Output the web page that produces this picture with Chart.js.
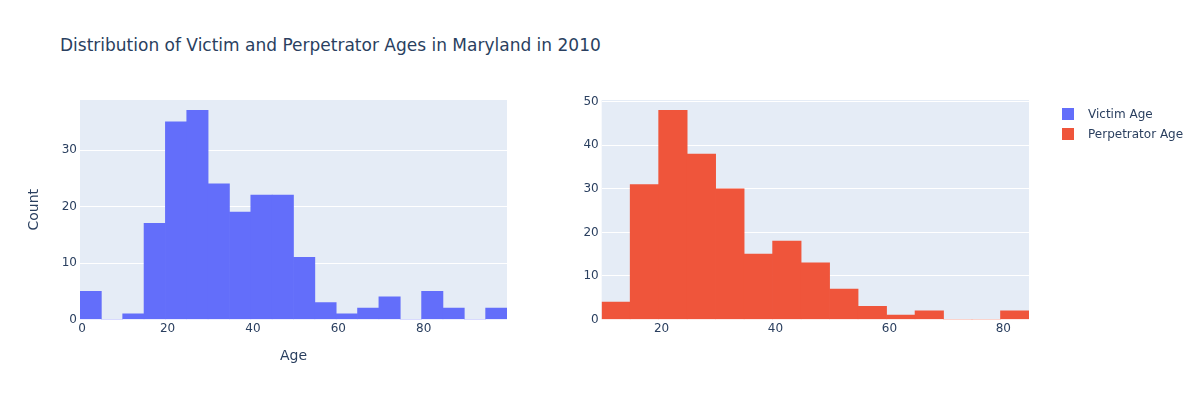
<!DOCTYPE html>
<html>
<head>
<meta charset="utf-8">
<script src="https://cdn.jsdelivr.net/npm/chart.js@4.4.1/dist/chart.umd.min.js"></script>
<style>
  html, body { margin: 0; padding: 0; background: #fff; }
  #wrap { position: relative; width: 1200px; height: 400px; overflow: hidden; font-family: "DejaVu Sans", "Open Sans", sans-serif; color: #2a3f5f; }
  #title { position: absolute; left: 60px; top: 33px; font-size: 17px; line-height: 24px; white-space: nowrap; }
  canvas { position: absolute; top: 0; }
  #c1 { left: 0; }
  #c2 { left: 520px; }
  .leg { position: absolute; left: 1062px; font-size: 12px; line-height: 16px; white-space: nowrap; z-index: 5; }
  .leg span.sw { position: absolute; left: 0; top: 2px; width: 12px; height: 12px; }
  .leg span.tx { position: absolute; left: 26px; top: 0; }
</style>
</head>
<body>
<div id="wrap">
  <div id="title">Distribution of Victim and Perpetrator Ages in Maryland in 2010</div>
  <canvas id="c1" width="600" height="400"></canvas>
  <canvas id="c2" width="600" height="400"></canvas>
  <div class="leg" style="top:106px"><span class="sw" style="background:#636efa"></span><span class="tx">Victim Age</span></div>
  <div class="leg" style="top:125.5px"><span class="sw" style="background:#EF553B"></span><span class="tx">Perpetrator Age</span></div>
</div>
<script>
// ---- data ----
const victimBinCenters = [2, 7, 12, 17, 22, 27, 32, 37, 42, 47, 52, 57, 62, 67, 72, 77, 82, 87, 92, 97];
const victimCounts     = [5, 0, 1, 17, 35, 37, 24, 19, 22, 22, 11, 3, 1, 2, 4, 0, 5, 2, 0, 2];
const perpBinCenters   = [12, 17, 22, 27, 32, 37, 42, 47, 52, 57, 62, 67, 72, 77, 82];
const perpCounts       = [4, 31, 48, 38, 30, 15, 18, 13, 7, 3, 1, 2, 0, 0, 2];
const victimXTicks = [0, 20, 40, 60, 80];
const perpXTicks   = [20, 40, 60, 80];
const victimYTicks = [0, 10, 20, 30];
const perpYTicks   = [0, 10, 20, 30, 40, 50];
const seriesNames  = ['Victim Age', 'Perpetrator Age'];

const FONT = '"DejaVu Sans", "Open Sans", sans-serif';
const TXT = '#2a3f5f';

const bgPlugin = {
  id: 'plotBg',
  beforeDraw(chart) {
    const a = chart.chartArea, ctx = chart.ctx;
    ctx.save();
    ctx.fillStyle = '#E5ECF6';
    ctx.fillRect(a.left, a.top, a.right - a.left, a.bottom - a.top);
    ctx.restore();
  }
};

function makeChart(id, name, centers, counts, color, xr, yMax, xTicks, yTicks, yAxisW, rightPad, showTitles) {
  return new Chart(document.getElementById(id), {
    type: 'bar',
    data: {
      datasets: [{
        label: name,
        data: centers.map((c, i) => ({ x: c, y: counts[i] })),
        backgroundColor: color,
        borderWidth: 0,
        barPercentage: 1,
        categoryPercentage: 1
      }]
    },
    options: {
      responsive: false,
      animation: false,
      devicePixelRatio: 1,
      layout: { padding: { left: 0, right: rightPad, top: 100, bottom: 35.5 } },
      plugins: { legend: { display: false }, tooltip: { enabled: false } },
      scales: {
        x: {
          type: 'linear',
          min: xr[0], max: xr[1],
          offset: false,
          grid: { display: false, offset: false, drawTicks: false },
          border: { display: false },
          ticks: { color: TXT, font: { family: FONT, size: 12 }, padding: 2, maxRotation: 0, autoSkip: false },
          afterBuildTicks(s) { s.ticks = xTicks.map(v => ({ value: v })); },
          afterFit(s) { s.height = 45; },
          title: { display: showTitles, text: 'Age', color: TXT, font: { family: FONT, size: 14 }, padding: { top: 0, bottom: 0 } }
        },
        y: {
          type: 'linear',
          min: 0, max: yMax,
          grid: { color: '#ffffff', lineWidth: 1, drawTicks: false },
          border: { display: false },
          ticks: { color: TXT, font: { family: FONT, size: 12 }, padding: 3, autoSkip: false },
          afterBuildTicks(s) { s.ticks = yTicks.map(v => ({ value: v })); },
          afterFit(s) { s.width = yAxisW; },
          title: { display: showTitles, text: 'Count', color: TXT, font: { family: FONT, size: 14 }, padding: { top: 25.6, bottom: 0 } }
        }
      }
    },
    plugins: [bgPlugin]
  });
}

makeChart('c1', seriesNames[0], victimBinCenters, victimCounts, '#636efa', [-0.5, 99.5], 38.85, victimXTicks, victimYTicks, 80, 93, true);
makeChart('c2', seriesNames[1], perpBinCenters, perpCounts, '#EF553B', [9.5, 84.5], 50.4, perpXTicks, perpYTicks, 81.7, 91, false);
</script>
</body>
</html>
